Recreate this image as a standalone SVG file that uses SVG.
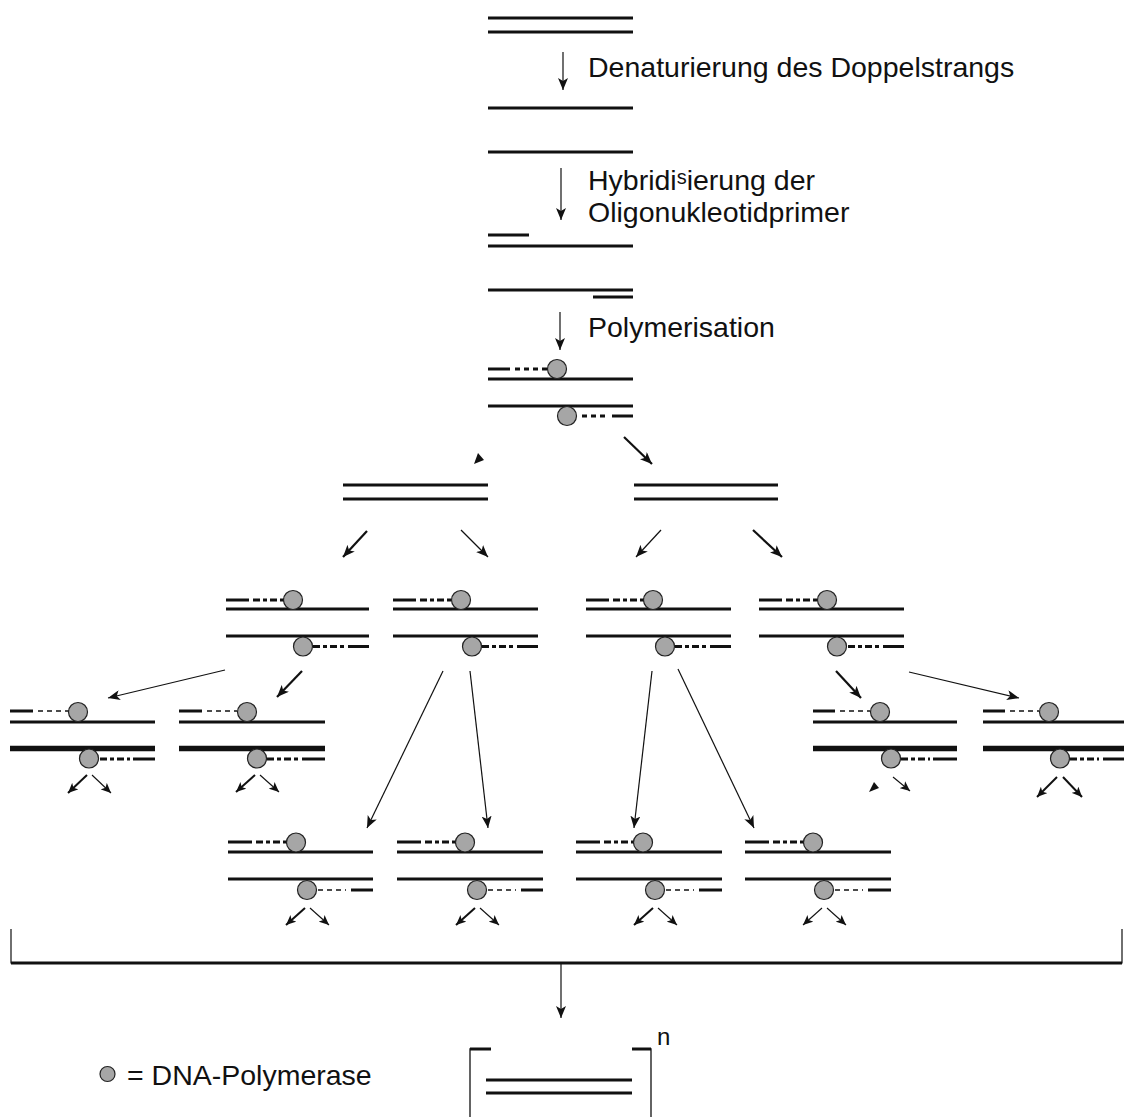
<svg xmlns="http://www.w3.org/2000/svg" width="1124" height="1117" viewBox="0 0 1124 1117">
<style>
  .s{stroke:#111;stroke-width:3;fill:none}
  .sk{stroke:#111;stroke-width:5.5;fill:none}
  .d{stroke:#111;stroke-width:3;stroke-dasharray:7 3 4 3;fill:none}
  .dt{stroke:#111;stroke-width:1.6;stroke-dasharray:5 4;fill:none}
  .pol{fill:#a6a6a6;stroke:#222;stroke-width:1.2}
  .a1{stroke:#111;stroke-width:1.2;fill:none;marker-end:url(#ah)}
  .a2{stroke:#111;stroke-width:2.2;fill:none;marker-end:url(#ah)}
  .as{stroke:#111;stroke-width:1.1;fill:none;marker-end:url(#ahs)}
  .as2{stroke:#111;stroke-width:2;fill:none;marker-end:url(#ahs)}
  .t{font-family:"Liberation Sans",Arial,sans-serif;font-size:28.5px;fill:#111}
</style>
<defs>
  <marker id="ah" viewBox="0 0 12 10" refX="12" refY="5" markerWidth="12" markerHeight="10" markerUnits="userSpaceOnUse" orient="auto">
    <path d="M0,0 L12,5 L0,10 L3,5 z" fill="#111"/>
  </marker>
  <marker id="ahs" viewBox="0 0 10 9" refX="10" refY="4.5" markerWidth="10" markerHeight="9" markerUnits="userSpaceOnUse" orient="auto">
    <path d="M0,0 L10,4.5 L0,9 L2.5,4.5 z" fill="#111"/>
  </marker>
</defs>
<rect width="1124" height="1117" fill="#fff"/>

<!-- top steps -->
<g id="ds0"><line class="s" x1="488" y1="18" x2="633" y2="18"/><line class="s" x1="488" y1="32" x2="633" y2="32"/></g>
<g id="ss1"><line class="s" x1="488" y1="108" x2="633" y2="108"/></g>
<g id="ss2"><line class="s" x1="488" y1="152" x2="633" y2="152"/></g>
<g id="prim">
  <line class="s" x1="488" y1="235" x2="529" y2="235"/><line class="s" x1="488" y1="246" x2="633" y2="246"/>
  <line class="s" x1="488" y1="290" x2="633" y2="290"/><line class="s" x1="593" y1="297" x2="633" y2="297"/>
</g>
<g id="labels">
  <text class="t" x="588" y="77">Denaturierung des Doppelstrangs</text>
  <text class="t" x="588" y="190">Hybridi<tspan font-size="20" dy="-6">s</tspan><tspan dy="6">ierung der</tspan></text>
  <text class="t" x="588" y="222">Oligonukleotidprimer</text>
  <text class="t" x="588" y="337">Polymerisation</text>
</g>

<!-- polymerase units -->
<g id="u0" transform="translate(488,379)">
  <line class="s" x1="0" y1="0" x2="145" y2="0"/><line class="s" x1="0" y1="27" x2="145" y2="27"/>
  <line class="s" x1="0" y1="-10" x2="22" y2="-10"/><line class="dt" style="stroke-width:3" x1="27" y1="-10" x2="59" y2="-10"/>
  <circle class="pol" cx="69" cy="-10" r="9.5"/>
  <line class="dt" style="stroke-width:3" x1="94" y1="37" x2="118" y2="37"/><line class="s" x1="124" y1="37" x2="145" y2="37"/>
  <circle class="pol" cx="79" cy="37" r="9.5"/>
</g>

<g id="dsL"><line class="s" x1="343" y1="485" x2="488" y2="485"/><line class="s" x1="343" y1="499" x2="488" y2="499"/></g>
<g id="dsR"><line class="s" x1="634" y1="485" x2="778" y2="485"/><line class="s" x1="634" y1="499" x2="778" y2="499"/></g>

<g id="r3a" transform="translate(226,609)">
  <line class="s" x1="0" y1="0" x2="143" y2="0"/><line class="s" x1="0" y1="27" x2="143" y2="27"/>
  <line class="s" x1="0" y1="-9" x2="23" y2="-9"/><line class="d" x1="27" y1="-9" x2="59" y2="-9"/>
  <circle class="pol" cx="67" cy="-9" r="9.5"/>
  <line class="d" x1="87" y1="37.5" x2="118" y2="37.5"/><line class="s" x1="122" y1="37.5" x2="143" y2="37.5"/>
  <circle class="pol" cx="77" cy="37.5" r="9.5"/>
</g>
<g id="r3b" transform="translate(393,609)">
  <line class="s" x1="0" y1="0" x2="145" y2="0"/><line class="s" x1="0" y1="27" x2="145" y2="27"/>
  <line class="s" x1="0" y1="-9" x2="23" y2="-9"/><line class="d" x1="27" y1="-9" x2="59" y2="-9"/>
  <circle class="pol" cx="68" cy="-9" r="9.5"/>
  <line class="d" x1="89" y1="37.5" x2="120" y2="37.5"/><line class="s" x1="124" y1="37.5" x2="145" y2="37.5"/>
  <circle class="pol" cx="79" cy="37.5" r="9.5"/>
</g>
<g id="r3c" transform="translate(586,609)">
  <line class="s" x1="0" y1="0" x2="145" y2="0"/><line class="s" x1="0" y1="27" x2="145" y2="27"/>
  <line class="s" x1="0" y1="-9" x2="23" y2="-9"/><line class="d" x1="27" y1="-9" x2="59" y2="-9"/>
  <circle class="pol" cx="67" cy="-9" r="9.5"/>
  <line class="d" x1="89" y1="37.5" x2="120" y2="37.5"/><line class="s" x1="124" y1="37.5" x2="145" y2="37.5"/>
  <circle class="pol" cx="79" cy="37.5" r="9.5"/>
</g>
<g id="r3d" transform="translate(759,609)">
  <line class="s" x1="0" y1="0" x2="145" y2="0"/><line class="s" x1="0" y1="27" x2="145" y2="27"/>
  <line class="s" x1="0" y1="-9" x2="23" y2="-9"/><line class="d" x1="27" y1="-9" x2="59" y2="-9"/>
  <circle class="pol" cx="68" cy="-9" r="9.5"/>
  <line class="d" x1="89" y1="37.5" x2="120" y2="37.5"/><line class="s" x1="124" y1="37.5" x2="145" y2="37.5"/>
  <circle class="pol" cx="78" cy="37.5" r="9.5"/>
</g>

<g id="r4a" transform="translate(10,722)">
  <line class="s" x1="0" y1="0" x2="145" y2="0"/><line class="sk" x1="0" y1="26.5" x2="145" y2="26.5"/>
  <line class="s" x1="0" y1="-11" x2="23" y2="-11"/><line class="dt" x1="28" y1="-11" x2="59" y2="-11"/>
  <circle class="pol" cx="68" cy="-10" r="9.5"/>
  <line class="d" x1="90" y1="37" x2="120" y2="37"/><line class="s" x1="123" y1="37" x2="145" y2="37"/>
  <circle class="pol" cx="79" cy="36.5" r="9.5"/>
  <line class="as2" x1="77" y1="53" x2="58" y2="71"/><line class="as" x1="82" y1="53" x2="101" y2="71"/>
</g>
<g id="r4b" transform="translate(179,722)">
  <line class="s" x1="0" y1="0" x2="146" y2="0"/><line class="sk" x1="0" y1="26.5" x2="146" y2="26.5"/>
  <line class="s" x1="0" y1="-11" x2="23" y2="-11"/><line class="dt" x1="28" y1="-11" x2="58" y2="-11"/>
  <circle class="pol" cx="68" cy="-10" r="9.5"/>
  <line class="d" x1="88" y1="37" x2="120" y2="37"/><line class="s" x1="123" y1="37" x2="146" y2="37"/>
  <circle class="pol" cx="78" cy="36.5" r="9.5"/>
  <line class="as2" x1="76" y1="53" x2="57" y2="70"/><line class="as" x1="81" y1="53" x2="100" y2="70"/>
</g>
<g id="r4c" transform="translate(813,722)">
  <line class="s" x1="0" y1="0" x2="144" y2="0"/><line class="sk" x1="0" y1="26.5" x2="144" y2="26.5"/>
  <line class="s" x1="0" y1="-11" x2="22" y2="-11"/><line class="dt" x1="27" y1="-11" x2="57" y2="-11"/>
  <circle class="pol" cx="67" cy="-10" r="9.5"/>
  <line class="d" x1="88" y1="37" x2="117" y2="37"/><line class="s" x1="120" y1="37" x2="144" y2="37"/>
  <circle class="pol" cx="78" cy="36.5" r="9.5"/>
  <polygon points="56,70 66,66 61,60" fill="#111"/>
  <line class="as" x1="80" y1="55" x2="97" y2="69"/>
</g>
<g id="r4d" transform="translate(983,722)">
  <line class="s" x1="0" y1="0" x2="145" y2="0"/><line class="sk" x1="0" y1="26.5" x2="145" y2="26.5"/>
  <line class="s" x1="0" y1="-11" x2="22" y2="-11"/><line class="dt" x1="27" y1="-11" x2="56" y2="-11"/>
  <circle class="pol" cx="66" cy="-10" r="9.5"/>
  <line class="d" x1="87" y1="37" x2="116" y2="37"/><line class="s" x1="120" y1="37" x2="145" y2="37"/>
  <circle class="pol" cx="77" cy="36.5" r="9.5"/>
  <line class="as2" x1="74" y1="55" x2="54" y2="75"/><line class="as2" x1="80" y1="55" x2="99" y2="75"/>
</g>

<g id="r5a" transform="translate(228,852)">
  <line class="s" x1="0" y1="0" x2="145" y2="0"/><line class="s" x1="0" y1="27" x2="145" y2="27"/>
  <line class="s" x1="0" y1="-10" x2="24" y2="-10"/><line class="d" x1="28" y1="-10" x2="59" y2="-10"/>
  <circle class="pol" cx="68" cy="-9.5" r="9.5"/>
  <line class="dt" x1="90" y1="38" x2="118" y2="38"/><line class="s" x1="123" y1="38" x2="145" y2="38"/>
  <circle class="pol" cx="79" cy="38" r="9.5"/>
  <line class="as2" x1="77" y1="56" x2="58" y2="73"/><line class="as" x1="82" y1="56" x2="101" y2="73"/>
</g>
<g id="r5b" transform="translate(397,852)">
  <line class="s" x1="0" y1="0" x2="146" y2="0"/><line class="s" x1="0" y1="27" x2="146" y2="27"/>
  <line class="s" x1="0" y1="-10" x2="24" y2="-10"/><line class="d" x1="28" y1="-10" x2="59" y2="-10"/>
  <circle class="pol" cx="68" cy="-9.5" r="9.5"/>
  <line class="dt" x1="91" y1="38" x2="119" y2="38"/><line class="s" x1="124" y1="38" x2="146" y2="38"/>
  <circle class="pol" cx="80" cy="38" r="9.5"/>
  <line class="as2" x1="78" y1="56" x2="59" y2="73"/><line class="as" x1="83" y1="56" x2="102" y2="73"/>
</g>
<g id="r5c" transform="translate(576,852)">
  <line class="s" x1="0" y1="0" x2="146" y2="0"/><line class="s" x1="0" y1="27" x2="146" y2="27"/>
  <line class="s" x1="0" y1="-10" x2="24" y2="-10"/><line class="d" x1="28" y1="-10" x2="58" y2="-10"/>
  <circle class="pol" cx="67" cy="-9.5" r="9.5"/>
  <line class="dt" x1="90" y1="38" x2="118" y2="38"/><line class="s" x1="123" y1="38" x2="146" y2="38"/>
  <circle class="pol" cx="79" cy="38" r="9.5"/>
  <line class="as2" x1="77" y1="56" x2="58" y2="73"/><line class="as" x1="82" y1="56" x2="101" y2="73"/>
</g>
<g id="r5d" transform="translate(745,852)">
  <line class="s" x1="0" y1="0" x2="146" y2="0"/><line class="s" x1="0" y1="27" x2="146" y2="27"/>
  <line class="s" x1="0" y1="-10" x2="24" y2="-10"/><line class="d" x1="28" y1="-10" x2="59" y2="-10"/>
  <circle class="pol" cx="68" cy="-9.5" r="9.5"/>
  <line class="dt" x1="90" y1="38" x2="118" y2="38"/><line class="s" x1="123" y1="38" x2="146" y2="38"/>
  <circle class="pol" cx="79" cy="38" r="9.5"/>
  <line class="as" x1="77" y1="56" x2="58" y2="73"/><line class="as" x1="82" y1="56" x2="101" y2="73"/>
</g>

<!-- connectors -->
<g id="connectors">
  <line class="a1" x1="563" y1="52" x2="563" y2="90"/>
  <line class="a1" x1="561" y1="168" x2="561" y2="220"/>
  <line class="a1" x1="560" y1="312" x2="560" y2="350"/>
  <polygon points="474,464 484,460 478,453" fill="#111"/>
  <line class="a2" x1="624" y1="437" x2="652" y2="464"/>
  <line class="a2" x1="367" y1="531" x2="343" y2="557"/>
  <line class="a1" x1="461" y1="530" x2="488" y2="557"/>
  <line class="a1" x1="661" y1="530" x2="636" y2="557"/>
  <line class="a2" x1="753" y1="530" x2="782" y2="557"/>
  <line class="a1" x1="225" y1="670" x2="108" y2="698"/>
  <line class="a2" x1="302" y1="671" x2="277" y2="697"/>
  <line class="a1" x1="443" y1="671" x2="367" y2="828"/>
  <line class="a1" x1="470" y1="671" x2="488" y2="828"/>
  <line class="a1" x1="652" y1="671" x2="634" y2="828"/>
  <line class="a1" x1="678" y1="669" x2="754" y2="828"/>
  <line class="a2" x1="836" y1="671" x2="861" y2="698"/>
  <line class="a1" x1="909" y1="672" x2="1019" y2="698"/>
  <polyline points="11,929 11,963 1122,963 1122,929" fill="none" stroke="#111" stroke-width="1.2"/>
  <line x1="11" y1="963" x2="1122" y2="963" stroke="#111" stroke-width="3"/>
  <line class="a1" x1="561" y1="963" x2="561" y2="1018"/>
</g>

<!-- result -->
<g id="result">
  <polyline points="470,1117 470,1049 491,1049" fill="none" stroke="#111" stroke-width="1.3"/>
  <line x1="470" y1="1049" x2="491" y2="1049" stroke="#111" stroke-width="3"/>
  <polyline points="632,1049 651,1049 651,1117" fill="none" stroke="#111" stroke-width="1.3"/>
  <line x1="632" y1="1049" x2="651" y2="1049" stroke="#111" stroke-width="3"/>
  <line class="s" x1="486" y1="1080" x2="632" y2="1080"/>
  <line class="s" x1="486" y1="1093" x2="632" y2="1093"/>
  <text class="t" x="657" y="1045" style="font-size:24px">n</text>
</g>
<g id="legend">
  <circle class="pol" cx="107.5" cy="1074" r="7.5"/>
  <text class="t" x="127" y="1085">= DNA-Polymerase</text>
</g>
</svg>
